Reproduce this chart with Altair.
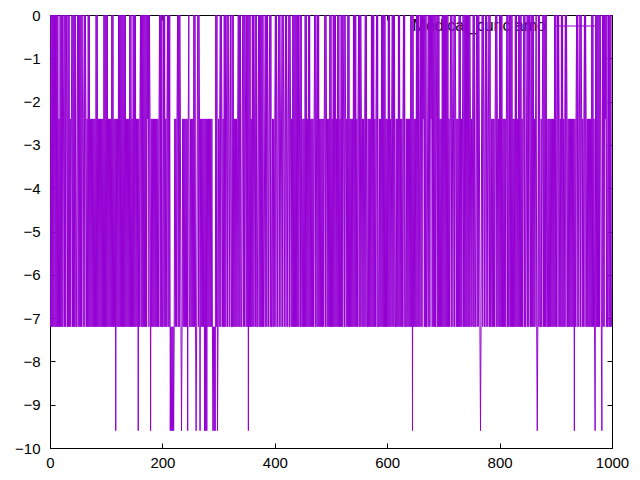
import altair as alt
import pandas as pd

# Discrete levels the trace jumps between
level_top = 0.0
level_upper = -2.4
level_lower = -7.2
level_deep = -9.6

n_points = 1000

# x ranges where the trace reaches 0
zero_spans = [
    (0, 15), (18, 22), (25, 29), (32, 35), (39, 46), (49, 57), (61, 63), (68, 71),
    (82, 85), (96, 103), (110, 112), (122, 135), (142, 145), (148, 152), (161, 173),
    (175, 177), (195, 200), (202, 205), (209, 213), (216, 220), (227, 231), (247, 248),
    (256, 258), (263, 265), (295, 297), (303, 305), (310, 312), (315, 317), (321, 322),
    (324, 327), (335, 340), (343, 347), (350, 356), (360, 362), (365, 368), (371, 380),
    (383, 387), (391, 394), (401, 403), (407, 409), (413, 415), (419, 421), (425, 427),
    (432, 442), (445, 448), (454, 457), (460, 463), (471, 473), (476, 478), (489, 491),
    (498, 501), (504, 508), (512, 514), (518, 520), (523, 525), (530, 533), (540, 545),
    (549, 553), (561, 564), (572, 576), (581, 584), (590, 596), (602, 605), (609, 614),
    (620, 623), (629, 632), (642, 647), (652, 657), (659, 663), (665, 670), (673, 677),
    (679, 687), (690, 693), (698, 700), (702, 708), (713, 715), (719, 721), (728, 731),
    (735, 747), (753, 756), (759, 763), (769, 771), (775, 777), (781, 784), (793, 795),
    (800, 804), (813, 816), (818, 822), (828, 831), (834, 839), (843, 846), (849, 853),
    (856, 860), (865, 872), (877, 884), (898, 900), (903, 905), (910, 912), (917, 919),
    (937, 939), (943, 945), (951, 953), (964, 966), (971, 979), (983, 987), (989, 992),
    (994, 998),
]

# x positions where the trace drops to -9.6
deep_points = [117, 157, 179, 214, 216, 218, 220, 234, 245, 260, 267, 275, 277, 279,
               290, 292, 294, 298, 353, 645, 766, 867, 933, 970, 982]

x_ticks = [0, 200, 400, 600, 800, 1000]
y_ticks = [0, -1, -2, -3, -4, -5, -6, -7, -8, -9, -10]
series_name = "Medical_curic amo"
line_color = "#9400d3"
font = "Liberation Sans"

rows = []
for i in range(n_points):
    span = next((s for s in zero_spans if s[0] <= i <= s[1]), None)
    if i in deep_points:
        v = level_deep
    elif span is not None:
        v = level_top if (i - span[0]) % 2 == 0 else level_lower
    else:
        v = level_upper if i % 2 == 0 else level_lower
    rows.append({"x": i, "y": v})
df = pd.DataFrame(rows)

xscale = alt.Scale(domain=[0, 1000], nice=False, zero=False)
yscale = alt.Scale(domain=[-10, 0], nice=False, zero=False)

base = alt.Chart(df)

main = base.mark_line(color=line_color, strokeWidth=1, clip=True).encode(
    x=alt.X("x:Q", scale=xscale, axis=alt.Axis(
        values=x_ticks, format="d", title=None, grid=False, domain=False, ticks=False,
        labelPadding=7, labelFontSize=15, labelFont=font, labelColor="black",
        labelFlush=False, labelOverlap=False)),
    y=alt.Y("y:Q", scale=yscale, axis=alt.Axis(
        values=y_ticks, format="d", title=None, grid=False, domain=False, ticks=False,
        labelPadding=10, labelFontSize=15, labelFont=font, labelColor="black",
        labelOverlap=False)),
)

tick_axis = dict(title=None, grid=False, domain=False, labels=False, ticks=True,
                 tickSize=5, tickColor="black", tickWidth=1, offset=-5)

ticks_a = base.mark_line(opacity=0).encode(
    x=alt.X("x:Q", scale=xscale, axis=alt.Axis(values=x_ticks, orient="bottom", **tick_axis)),
    y=alt.Y("y:Q", scale=yscale, axis=alt.Axis(values=y_ticks, orient="left", **tick_axis)),
)
ticks_b = base.mark_line(opacity=0).encode(
    x=alt.X("x:Q", scale=xscale, axis=alt.Axis(values=x_ticks, orient="top", **tick_axis)),
    y=alt.Y("y:Q", scale=yscale, axis=alt.Axis(values=y_ticks, orient="right", **tick_axis)),
)

legend_text = alt.Chart(pd.DataFrame({"label": [series_name]})).mark_text(
    align="right", baseline="middle", fontSize=16, font=font, color="black"
).encode(text="label:N", x=alt.value(496), y=alt.value(11))

legend_line = alt.Chart(pd.DataFrame({"label": [series_name]})).mark_rule(
    color=line_color, strokeWidth=1
).encode(x=alt.value(505), x2=alt.value(545), y=alt.value(11))

chart = alt.layer(legend_text, legend_line, main, ticks_a, ticks_b).resolve_axis(
    x="independent", y="independent"
).properties(
    width=562, height=433,
    autosize=alt.AutoSizeParams(type="none"),
    padding={"left": 42, "top": 7, "right": 20, "bottom": 30},
    background="white",
).configure_view(stroke="black", strokeWidth=1)

chart.save("out.html", embed_options={"renderer": "svg", "actions": False})
